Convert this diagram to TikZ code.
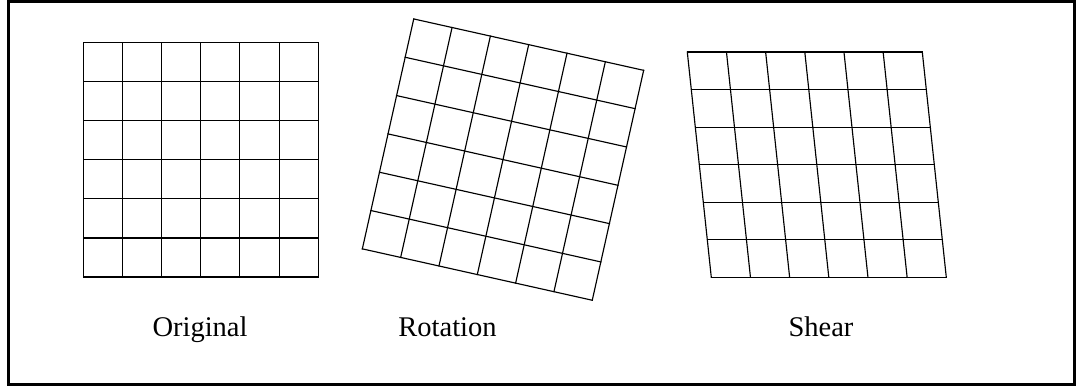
\documentclass[tikz,border=0pt]{standalone}
\usepackage{fontspec}
\setmainfont{Liberation Serif}
\usetikzlibrary{positioning}

% 6x6 grid of lines centred on the scope origin, half width #1, half height #2
\newcommand{\sixgrid}[2]{%
  \foreach \k in {0,...,6}{
    \draw[gridline] ({-#1+2*#1*\k/6},-#2) -- ({-#1+2*#1*\k/6},#2);
    \draw[gridline] (-#1,{-#2+2*#2*\k/6}) -- (#1,{-#2+2*#2*\k/6});
  }}

\begin{document}
\begin{tikzpicture}[x=1pt,y=-1pt,
  frame/.style={draw,line width=2.4pt},
  gridline/.style={line width=1.15pt,line cap=rect},
  caption/.style={anchor=base,inner sep=0pt,font=\fontsize{28.5}{30}\selectfont}]
  \useasboundingbox (0,0) rectangle (1080,387);
  \draw[frame] (8.5,1.5) rectangle (1074.5,384.5);
  % original
  \begin{scope}[shift={(200.7,159.8)}]
    \sixgrid{117.6}{117.2}
  \end{scope}
  % rotation
  \begin{scope}[shift={(503,159.6)},rotate=-12.6]
    \sixgrid{117.8}{117.8}
  \end{scope}
  % shear
  \begin{scope}[shift={(816.8,164.7)},xslant=-0.1065]
    \sixgrid{117.5}{112.65}
  \end{scope}
  \node[caption] (orig) at (200,337) {Original};
  \node[caption] (rot)  at (447.5,337) {Rotation};
  \node[caption] (shr)  at (821,337) {Shear};
\end{tikzpicture}
\end{document}
